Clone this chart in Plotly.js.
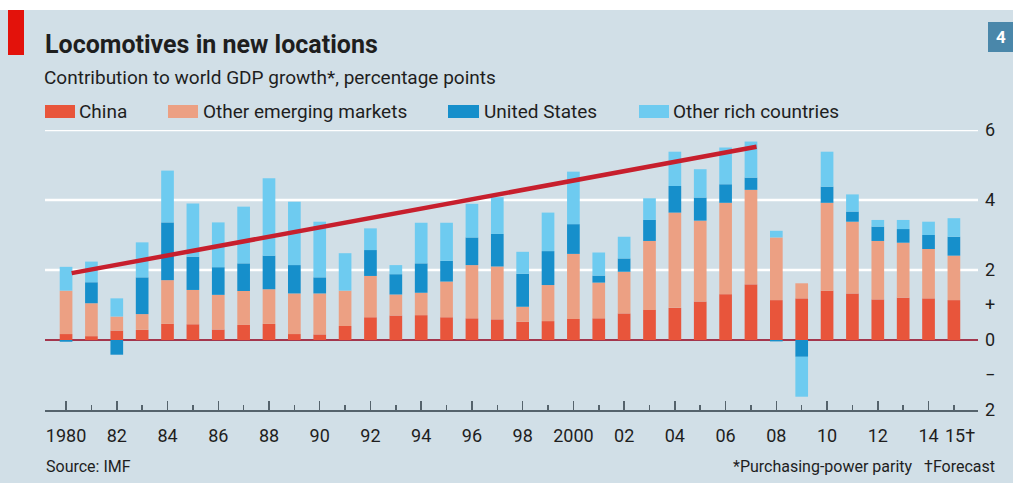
<!DOCTYPE html>
<html>
<head>
<meta charset="utf-8">
<script src="https://cdn.plot.ly/plotly-3.0.1.min.js"></script>
<style>
  html, body { margin: 0; padding: 0; background: #d1dfe7; }
  #chart { width: 1013px; height: 483px; }
</style>
</head>
<body>
<div id="chart"></div>
<script>
// ---- Data (contribution to world GDP growth, percentage points) ----
const years = [1980,1981,1982,1983,1984,1985,1986,1987,1988,1989,1990,1991,1992,1993,1994,1995,1996,1997,
               1998,1999,2000,2001,2002,2003,2004,2005,2006,2007,2008,2009,2010,2011,2012,2013,2014,2015];
const china = [0.17,0.11,0.27,0.29,0.46,0.45,0.30,0.43,0.46,0.17,0.16,0.40,0.65,0.70,0.71,0.65,0.62,0.59,
               0.52,0.54,0.60,0.62,0.76,0.86,0.92,1.10,1.31,1.59,1.14,1.19,1.41,1.33,1.16,1.21,1.19,1.14];
const otherEmerging = [1.24,0.94,0.40,0.45,1.25,0.98,0.99,0.97,0.99,1.16,1.17,1.01,1.18,0.60,0.64,1.02,1.52,1.51,
               0.43,1.03,1.86,1.02,1.19,1.97,2.72,2.31,2.61,2.70,1.79,0.43,2.51,2.05,1.67,1.57,1.41,1.27];
const unitedStates = [-0.05,0.60,-0.42,1.05,1.65,0.95,0.79,0.79,0.96,0.81,0.46,0.00,0.74,0.58,0.84,0.59,0.79,0.93,
               0.94,0.97,0.85,0.20,0.38,0.60,0.76,0.66,0.53,0.35,-0.04,-0.48,0.46,0.29,0.41,0.39,0.40,0.54];
const otherRich = [0.68,0.59,0.52,1.00,1.48,1.52,1.28,1.62,2.21,1.81,1.59,1.07,0.62,0.26,1.16,1.09,0.96,1.05,
               0.63,1.10,1.50,0.66,0.62,0.62,0.98,0.81,1.05,1.03,0.19,-1.14,1.00,0.49,0.19,0.26,0.38,0.53];
const seriesNames = ["China", "Other emerging markets", "United States", "Other rich countries"];

// Trend line drawn on the chart (start and end)
const trendX = [1980.22, 2007.22];
const trendY = [1.91, 5.52];

// Axis ticks
const xTickVals = [1980,1982,1984,1986,1988,1990,1992,1994,1996,1998,2000,2002,2004,2006,2008,2010,2012,2014];
const xTickText = ["1980","82","84","86","88","90","92","94","96","98","2000","02","04","06","08","10","12","14"];
const lastYear = 2015;
const lastYearLabel = "15†";
const yTickVals = [-2,-1,0,1,2,4,6];
const yTickText = ["2","−","0","+","2","4","6"];
const gridVals = [2,4,6];

// ---- Styling ----
const BG = "#d1dfe7";
const COLORS = ["#e8553b", "#eca083", "#168fcb", "#6ecbf0"];
const FONT = "Roboto, 'Open Sans', sans-serif";
const TEXT = "#1e1e1e";

// layout geometry (pixels)
const W = 1013, H = 483;
const M = {l: 45, r: 35, t: 130, b: 73};
const PW = W - M.l - M.r, PH = H - M.t - M.b;
const px = x => (x - M.l) / PW;
const py = y => (H - M.b - y) / PH;

const traces = [china, otherEmerging, unitedStates, otherRich].map((vals, i) => ({
  type: "bar",
  x: years,
  y: vals,
  name: seriesNames[i],
  marker: {color: COLORS[i], line: {width: 0}},
  hoverinfo: "x+y+name"
}));
traces.push({
  type: "scatter",
  mode: "lines",
  x: trendX,
  y: trendY,
  line: {color: "#c71f2d", width: 4.5},
  showlegend: false,
  hoverinfo: "skip"
});

const shapes = [];
// gridlines
gridVals.forEach(v => shapes.push({
  type: "line", xref: "paper", yref: "y", x0: 0, x1: 1, y0: v, y1: v,
  line: {color: "#ffffff", width: 2.5}, layer: "below"
}));
// white strip at top
shapes.push({type: "rect", xref: "paper", yref: "paper", x0: px(0), x1: px(W), y0: py(10), y1: py(-5),
  fillcolor: "#ffffff", line: {width: 0}, layer: "below"});
// red tag top-left
shapes.push({type: "rect", xref: "paper", yref: "paper", x0: px(8), x1: px(24), y0: py(55), y1: py(10),
  fillcolor: "#e3120b", line: {width: 0}});
// chart number box
shapes.push({type: "rect", xref: "paper", yref: "paper", x0: px(988), x1: px(1014), y0: py(52), y1: py(22),
  fillcolor: "#4a87aa", line: {width: 0}});

const annotations = [];
function txt(text, x, y, size, opts = {}) {
  annotations.push(Object.assign({
    text, xref: "paper", yref: "paper", x: px(x), y: py(y),
    xanchor: "left", yanchor: "middle", showarrow: false,
    font: {family: FONT, size, color: TEXT}
  }, opts));
}
txt("<b>Locomotives in new locations</b>", 43, 44, 25);
txt("Contribution to world GDP growth*, percentage points", 42, 77, 19);
// legend
const legendSw = [[45, 75], [168, 198], [448, 479], [639, 669]];
const legendTx = [79, 203, 484, 673];
seriesNames.forEach((n, i) => {
  shapes.push({type: "rect", xref: "paper", yref: "paper",
    x0: px(legendSw[i][0]), x1: px(legendSw[i][1]), y0: py(118), y1: py(105),
    fillcolor: COLORS[i], line: {width: 0}});
  txt(n, legendTx[i] - 2, 111, 19);
});
txt("Source: IMF", 44, 466, 16);
txt("*Purchasing-power parity   †Forecast", 997, 466, 16, {xanchor: "right"});
txt("<b>4</b>", 1001, 37, 17, {xanchor: "center", font: {family: FONT, size: 17, color: "#ffffff"}});
annotations.push({
  text: lastYearLabel, xref: "x", yref: "paper", x: lastYear, y: py(435), xshift: 6,
  xanchor: "center", yanchor: "middle", showarrow: false,
  font: {family: FONT, size: 18, color: TEXT}
});

const layout = {
  width: W, height: H,
  margin: {l: M.l, r: M.r, t: M.t, b: M.b, pad: 0},
  paper_bgcolor: BG, plot_bgcolor: BG,
  barmode: "relative",
  bargap: 0.5,
  showlegend: false,
  font: {family: FONT, color: TEXT},
  xaxis: {
    range: [1979.17, 2015.95],
    tickmode: "array", tickvals: xTickVals, ticktext: xTickText,
    ticks: "inside", ticklen: 9, tickwidth: 1.5, tickcolor: "#55636c",
    showline: true, linecolor: "#55636c", linewidth: 1.5,
    showgrid: false, zeroline: false,
    tickfont: {family: FONT, size: 18, color: TEXT},
    ticklabelstandoff: 9,
    minor: {tickmode: "linear", tick0: 1980, dtick: 1, ticks: "inside", ticklen: 5,
            tickwidth: 1.5, tickcolor: "#55636c", showgrid: false},
    fixedrange: true
  },
  yaxis: {
    range: [-2, 6], side: "right",
    tickmode: "array", tickvals: yTickVals, ticktext: yTickText,
    showgrid: false, zeroline: true, zerolinecolor: "#a3364d", zerolinewidth: 1.5,
    ticks: "", ticklabelstandoff: 6,
    tickfont: {family: FONT, size: 18, color: TEXT},
    fixedrange: true
  },
  shapes, annotations
};

Plotly.newPlot("chart", traces, layout, {displayModeBar: false, staticPlot: true});
</script>
</body>
</html>
